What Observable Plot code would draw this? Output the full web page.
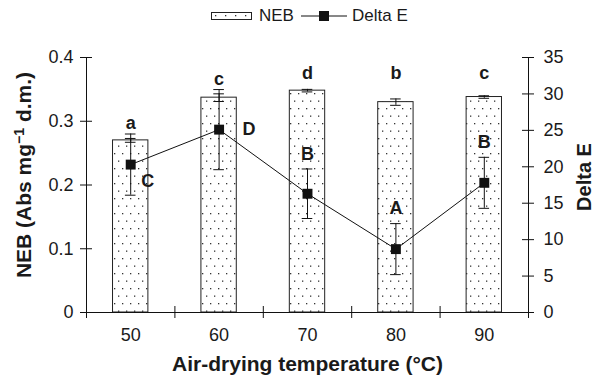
<!DOCTYPE html>
<html><head><meta charset="utf-8">
<script src="https://cdn.jsdelivr.net/npm/d3@7"></script>
<script src="https://cdn.jsdelivr.net/npm/@observablehq/plot@0.6"></script>
<style>
body{margin:0;background:#fff;font-family:"Liberation Sans",Arial,sans-serif;color:#1a1a1a;}
#legend{position:relative;height:30px;width:595px;font-size:17px;}
#legend .it{position:absolute;top:6px;line-height:20px;}
#legend svg{position:absolute;}
</style></head>
<body>
<div id="legend">
  <svg style="left:211px;top:12px" width="42" height="9">
    <defs><pattern id="ldots" width="10" height="8" patternUnits="userSpaceOnUse">
      <rect x="4" y="3" width="1.3" height="1.3" fill="#333"/></pattern></defs>
    <rect x="0.5" y="0.5" width="40" height="7" fill="url(#ldots)" stroke="#222"/>
  </svg>
  <span class="it" style="left:259px">NEB</span>
  <svg style="left:300px;top:8px" width="48" height="16">
    <line x1="1" x2="47" y1="8" y2="8" stroke="#111"/>
    <rect x="19" y="3" width="10" height="10" fill="#111"/>
  </svg>
  <span class="it" style="left:352px">Delta E</span>
</div>
<div id="chart"></div>
<script>
// ---- data ----
const temps = [50, 60, 70, 80, 90];
const neb = [0.270, 0.337, 0.348, 0.330, 0.338];
const nebErr = [0.003, 0.006, 0.002, 0.005, 0.002];
const deltaE = [20.3, 25.1, 16.3, 8.7, 17.8];
const deltaEErr = [4.2, 5.5, 3.4, 3.5, 3.5];
const nebLetters = ["a", "c", "d", "b", "c"];
const deltaELetters = ["C", "D", "B", "A", "B"];
const nebTicks = [0, 0.1, 0.2, 0.3, 0.4];
const deltaETicks = [0, 5, 10, 15, 20, 25, 30, 35];
const xBounds = [45, 55, 65, 75, 85, 95];

const k = 0.4 / 35;           // Delta E -> left-axis units
const rows = temps.map((t, i) => ({
  t, neb: neb[i], nebErr: nebErr[i], de: deltaE[i], deErr: deltaEErr[i],
  nl: nebLetters[i], dl: deltaELetters[i],
  top: Math.max(neb[i] + nebErr[i], (deltaE[i] + deltaEErr[i]) * k)
}));

const W = 595, H = 347, mL = 86, mR = 67, mT = 27, mB = 65;
const px = 50 / (W - mL - mR);    // x data units per pixel
const py = 0.4 / (H - mT - mB);   // y data units per pixel
const cap = 5.3 * px, tx = 6 * px, ty = 6 * py;
const halfBar = 2;
const ink = "#111";
const groupTop = d3.max(rows.slice(2), d => d.top);
const font = "'Liberation Sans', Arial, sans-serif";

const chart = Plot.plot({
  width: W, height: H, marginTop: mT, marginBottom: mB, marginLeft: mL, marginRight: mR,
  x: {domain: [45, 95]},
  y: {domain: [0, 0.4]},
  style: {fontFamily: font, fontSize: "18px", color: "#1a1a1a", background: "#fff", overflow: "visible"},
  marks: [
    Plot.rectY(rows, {x1: d => d.t - halfBar, x2: d => d.t + halfBar, y1: 0, y2: "neb", fill: "url(#dots)", stroke: "#222", strokeWidth: 1}),
    // NEB error bars
    Plot.ruleX(rows, {x: "t", y1: d => d.neb - d.nebErr, y2: d => d.neb + d.nebErr, stroke: ink}),
    Plot.ruleY(rows, {y: d => d.neb + d.nebErr, x1: d => d.t - cap, x2: d => d.t + cap, stroke: ink}),
    Plot.ruleY(rows, {y: d => d.neb - d.nebErr, x1: d => d.t - cap, x2: d => d.t + cap, stroke: ink}),
    // Delta E line and error bars
    Plot.line(rows, {x: "t", y: d => d.de * k, stroke: ink, strokeWidth: 1}),
    Plot.ruleX(rows, {x: "t", y1: d => (d.de - d.deErr) * k, y2: d => (d.de + d.deErr) * k, stroke: ink}),
    Plot.ruleY(rows, {y: d => (d.de + d.deErr) * k, x1: d => d.t - cap, x2: d => d.t + cap, stroke: ink}),
    Plot.ruleY(rows, {y: d => (d.de - d.deErr) * k, x1: d => d.t - cap, x2: d => d.t + cap, stroke: ink}),
    Plot.dot(rows, {x: "t", y: d => d.de * k, symbol: "square", r: 5.6, fill: ink, stroke: null}),
    // axis lines
    Plot.ruleX([45, 95], {y1: 0, y2: 0.4, stroke: ink}),
    Plot.ruleY([0], {x1: 45, x2: 95, stroke: ink}),
    // crossing ticks
    Plot.ruleY(nebTicks, {y: d => d, x1: 45 - tx, x2: 45 + tx, stroke: ink}),
    Plot.ruleY(deltaETicks, {y: d => d * k, x1: 95 - tx, x2: 95 + tx, stroke: ink}),
    Plot.ruleX(xBounds, {x: d => d, y1: -ty, y2: ty, stroke: ink}),
    // tick labels
    Plot.axisY({ticks: nebTicks, tickSize: 0, tickPadding: 13, label: null, tickFormat: d => d === 0 ? "0" : d3.format(".1f")(d)}),
    Plot.axisY({anchor: "right", ticks: deltaETicks.map(v => v * k), tickSize: 0, tickPadding: 15, label: null, tickFormat: d => String(Math.round(d / k))}),
    Plot.axisX({ticks: temps, tickSize: 0, tickPadding: 16, label: null, tickFormat: d => String(d)}),
    // axis titles
    Plot.text(["NEB (Abs mg-1 d.m.)"], {frameAnchor: "left", textAnchor: "middle", lineAnchor: "middle", dx: -62, dy: -10, rotate: -90, fontWeight: "bold", fontSize: 21}),
    Plot.text(["Delta E"], {frameAnchor: "right", textAnchor: "middle", lineAnchor: "middle", dx: 56, dy: -8, rotate: -90, fontWeight: "bold", fontSize: 20}),
    Plot.text(["Air-drying temperature (\u00B0C)"], {frameAnchor: "bottom", textAnchor: "middle", lineAnchor: "middle", dy: 52, fontWeight: "bold", fontSize: 21}),
    // significance letters (NEB, lowercase)
    Plot.text(rows.slice(0, 2), {x: "t", y: "top", text: "nl", lineAnchor: "bottom", dy: -5, fontWeight: "bold", fontSize: 18}),
    Plot.text(rows.slice(2), {x: "t", y: () => groupTop, text: "nl", lineAnchor: "bottom", dy: -10, fontWeight: "bold", fontSize: 18}),
    // significance letters (Delta E, uppercase)
    Plot.text(rows.slice(0, 1), {x: "t", y: d => d.de * k, text: "dl", dx: 17, dy: 17, fontWeight: "bold", fontSize: 18}),
    Plot.text(rows.slice(1, 2), {x: "t", y: d => d.de * k, text: "dl", dx: 30, dy: 0, fontWeight: "bold", fontSize: 18}),
    Plot.text(rows.slice(2), {x: "t", y: d => (d.de + d.deErr) * k, text: "dl", dy: -15, fontWeight: "bold", fontSize: 18})
  ]
});

// superscript in the left-axis title
for (const t of chart.querySelectorAll("text")) {
  if (t.textContent === "NEB (Abs mg-1 d.m.)") {
    t.textContent = "";
    const ns = "http://www.w3.org/2000/svg";
    const a = document.createElementNS(ns, "tspan"); a.textContent = "NEB (Abs mg";
    const b = document.createElementNS(ns, "tspan"); b.textContent = "\u22121";
    b.setAttribute("dy", "-7"); b.setAttribute("font-size", "14");
    const c = document.createElementNS(ns, "tspan"); c.textContent = " d.m.)";
    c.setAttribute("dy", "7");
    t.append(a, b, c);
  }
}

// dotted fill pattern for the bars
const defs = document.createElementNS("http://www.w3.org/2000/svg", "defs");
defs.innerHTML = '<pattern id="dots" width="16" height="15" patternUnits="userSpaceOnUse">' +
  '<rect x="2" y="3" width="1.3" height="1.3" fill="#333"/>' +
  '<rect x="10" y="3" width="1.3" height="1.3" fill="#333"/>' +
  '<rect x="6" y="10.5" width="1.3" height="1.3" fill="#333"/>' +
  '<rect x="14" y="10.5" width="1.3" height="1.3" fill="#333"/></pattern>';
chart.insertBefore(defs, chart.firstChild);
document.getElementById("chart").appendChild(chart);
</script>
</body></html>
